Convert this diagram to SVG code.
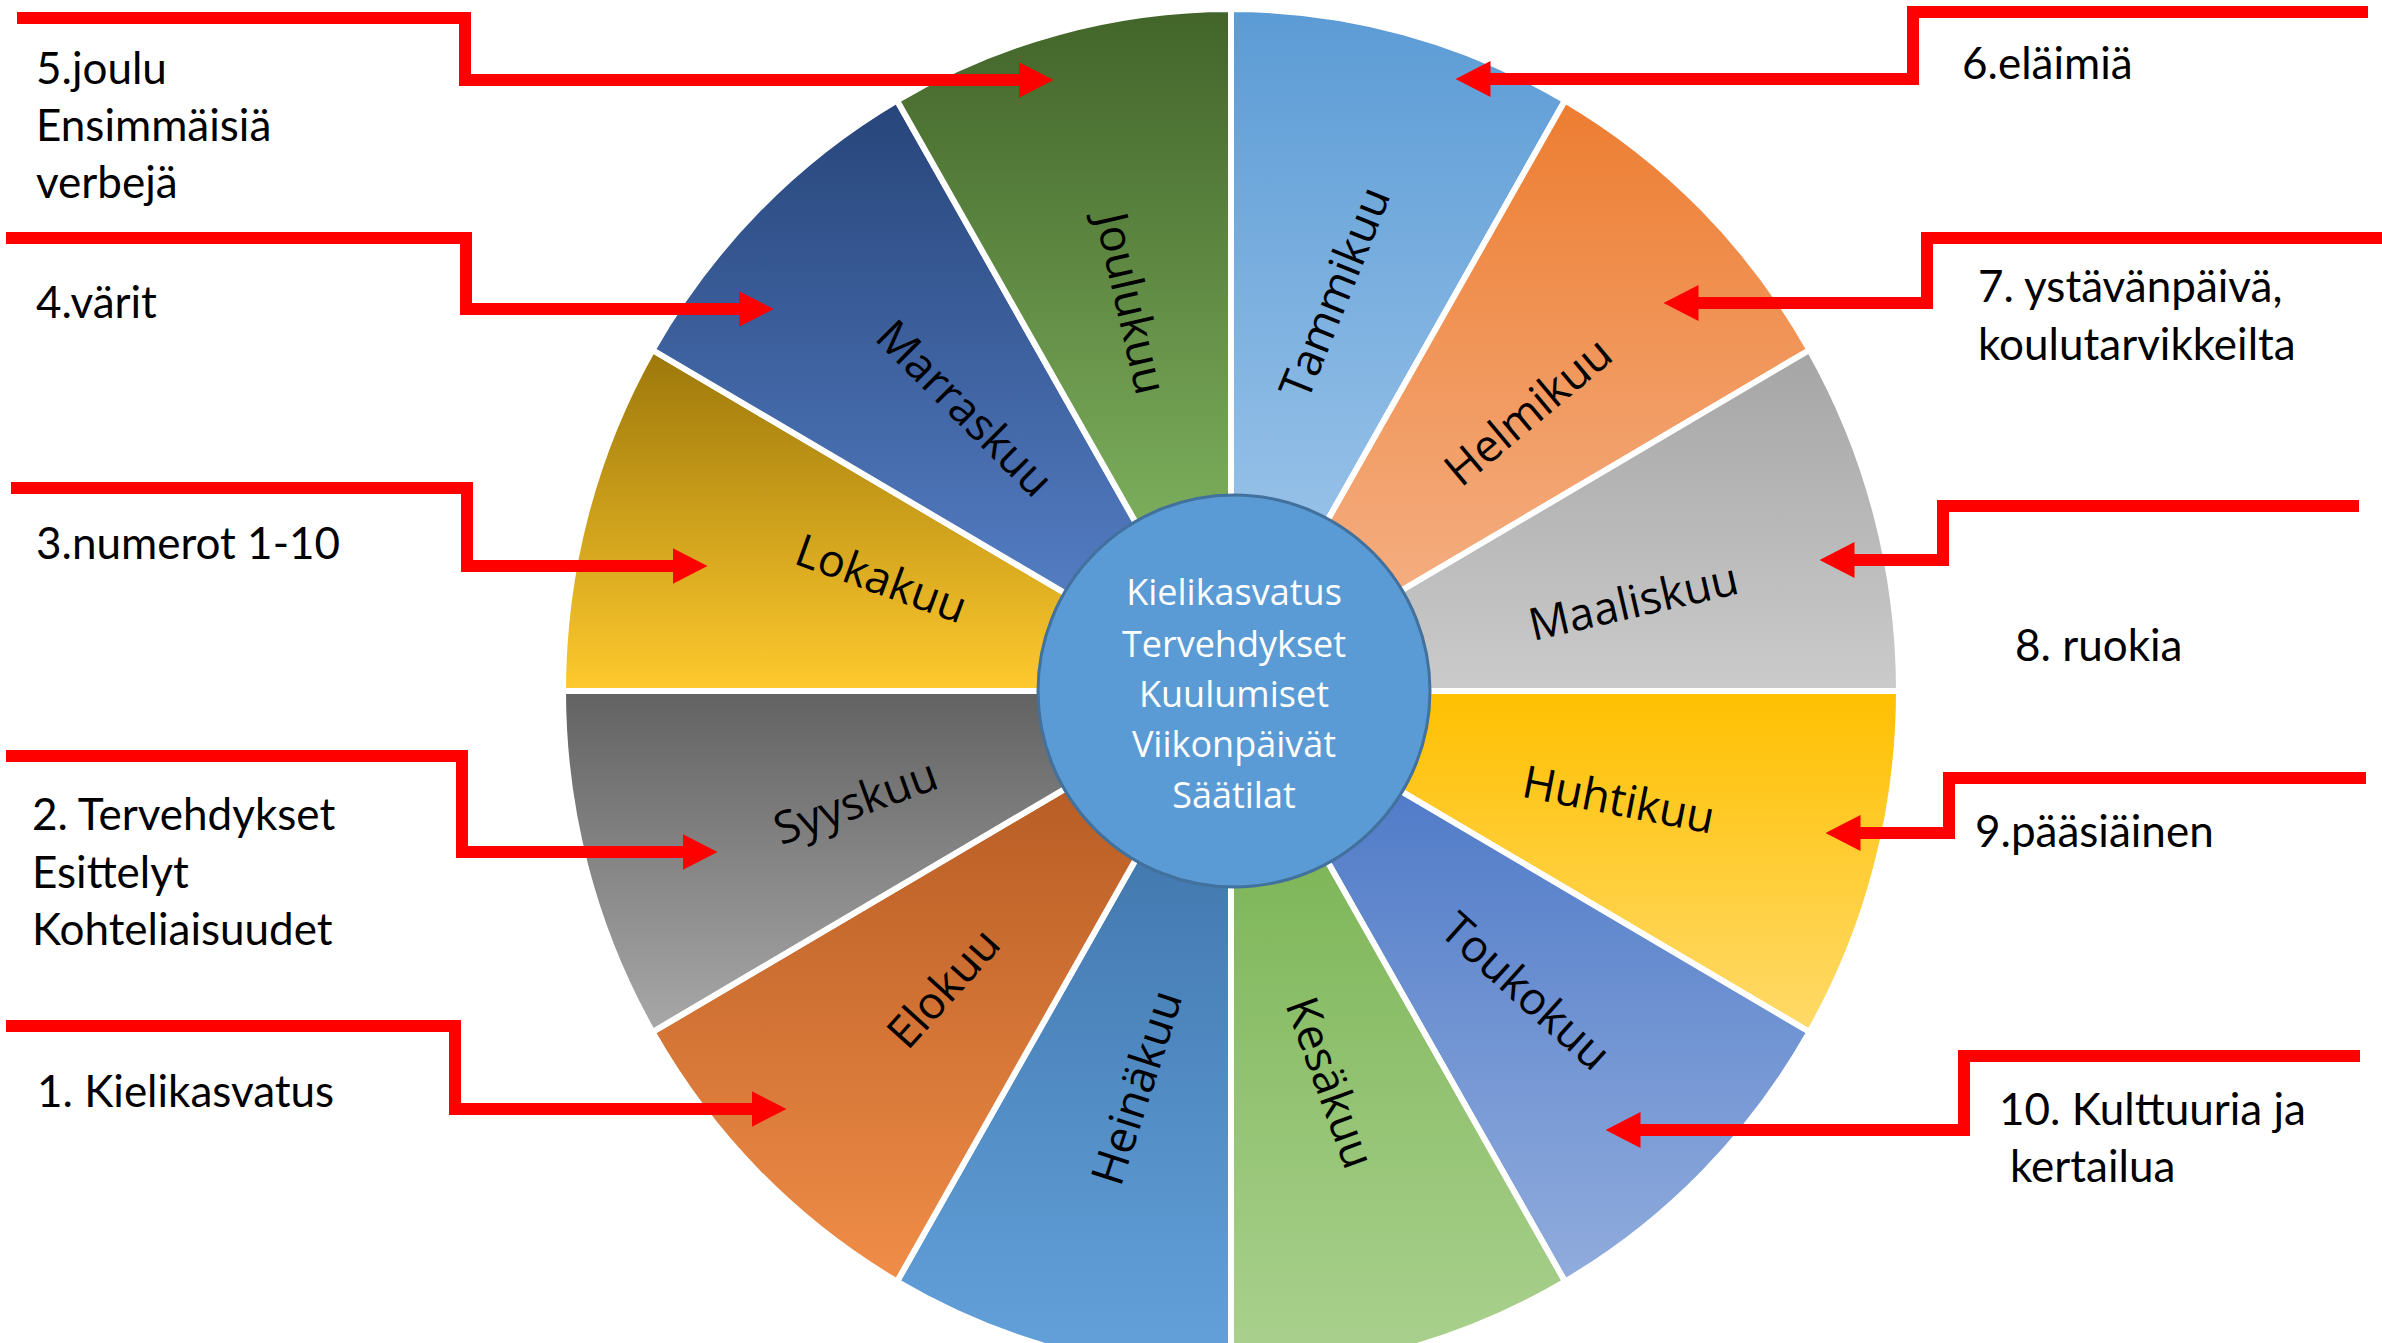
<svg xmlns="http://www.w3.org/2000/svg" width="2382" height="1343" viewBox="0 0 2382 1343">
<defs>
<linearGradient id="gJou" x1="0" y1="0" x2="0" y2="1"><stop offset="0" stop-color="#42642A"/><stop offset="1" stop-color="#8EC56B"/></linearGradient>
<linearGradient id="gMar" x1="0" y1="0" x2="0" y2="1"><stop offset="0" stop-color="#27457A"/><stop offset="1" stop-color="#5C87D0"/></linearGradient>
<linearGradient id="gLok" x1="0" y1="0" x2="0" y2="1"><stop offset="0" stop-color="#9C770A"/><stop offset="1" stop-color="#FFCA2E"/></linearGradient>
<linearGradient id="gSyy" x1="0" y1="0" x2="0" y2="1"><stop offset="0" stop-color="#626262"/><stop offset="1" stop-color="#A8A8A8"/></linearGradient>
<linearGradient id="gElo" x1="0" y1="0" x2="0" y2="1"><stop offset="0" stop-color="#AD541E"/><stop offset="1" stop-color="#F08D48"/></linearGradient>
<linearGradient id="gHei" x1="0" y1="0" x2="0" y2="1"><stop offset="0" stop-color="#386CA1"/><stop offset="1" stop-color="#64A2DC"/></linearGradient>
<linearGradient id="gTam" x1="0" y1="0" x2="0" y2="1"><stop offset="0" stop-color="#5B9BD5"/><stop offset="1" stop-color="#A9CDEE"/></linearGradient>
<linearGradient id="gHel" x1="0" y1="0" x2="0" y2="1"><stop offset="0" stop-color="#ED7D31"/><stop offset="1" stop-color="#F6B790"/></linearGradient>
<linearGradient id="gMaa" x1="0" y1="0" x2="0" y2="1"><stop offset="0" stop-color="#A5A5A5"/><stop offset="1" stop-color="#CBCBCB"/></linearGradient>
<linearGradient id="gHuh" x1="0" y1="0" x2="0" y2="1"><stop offset="0" stop-color="#FFC000"/><stop offset="1" stop-color="#FFDA6A"/></linearGradient>
<linearGradient id="gTou" x1="0" y1="0" x2="0" y2="1"><stop offset="0" stop-color="#4472C4"/><stop offset="1" stop-color="#91ACDD"/></linearGradient>
<linearGradient id="gKes" x1="0" y1="0" x2="0" y2="1"><stop offset="0" stop-color="#70AD47"/><stop offset="1" stop-color="#ABD290"/></linearGradient>
<marker id="ah" viewBox="0 0 35 36" refX="0.5" refY="18" markerWidth="35" markerHeight="36" markerUnits="userSpaceOnUse" orient="auto">
<path d="M0 0 L35 18 L0 36 Z" fill="#FF0000"/>
</marker>
</defs>
<style>
.seg{stroke:#FFFFFF;stroke-width:6;stroke-linejoin:round}
.mon{font-family:"Open Sans","DejaVu Sans",sans-serif;font-size:45px;fill:#000000;text-anchor:middle;dominant-baseline:central}
.ctr{font-family:"Open Sans","DejaVu Sans",sans-serif;font-size:36px;fill:#FFFFFF;text-anchor:middle}
.lbl{font-family:Lato,"Liberation Sans",sans-serif;font-size:44px;fill:#000000}
.con{fill:none;stroke:#FF0000;stroke-width:12;stroke-linejoin:miter;marker-end:url(#ah)}
</style>
<rect x="0" y="0" width="2382" height="1343" fill="#FFFFFF"/>
<g id="wheel">
<g id="tammikuu"><path class="seg" fill="url(#gTam)" d="M1231 691 L1231 9 A668 682 0 0 1 1565 100.4 Z"/><text class="mon" transform="translate(1333 292) rotate(-68)">Tammikuu</text></g>
<g id="helmikuu"><path class="seg" fill="url(#gHel)" d="M1231 691 L1565 100.4 A668 682 0 0 1 1809.5 350 Z"/><text class="mon" transform="translate(1527 410) rotate(-40)">Helmikuu</text></g>
<g id="maaliskuu"><path class="seg" fill="url(#gMaa)" d="M1231 691 L1809.5 350 A668 682 0 0 1 1899 691 Z"/><text class="mon" transform="translate(1633 600) rotate(-13)">Maaliskuu</text></g>
<g id="huhtikuu"><path class="seg" fill="url(#gHuh)" d="M1231 691 L1899 691 A668 682 0 0 1 1809.5 1032 Z"/><text class="mon" transform="translate(1619 798) rotate(11)">Huhtikuu</text></g>
<g id="toukokuu"><path class="seg" fill="url(#gTou)" d="M1231 691 L1809.5 1032 A668 682 0 0 1 1565 1281.6 Z"/><text class="mon" transform="translate(1527 990) rotate(42)">Toukokuu</text></g>
<g id="kesakuu"><path class="seg" fill="url(#gKes)" d="M1231 691 L1565 1281.6 A668 682 0 0 1 1231 1373 Z"/><text class="mon" transform="translate(1332 1082) rotate(70)">Kesäkuu</text></g>
<g id="heinakuu"><path class="seg" fill="url(#gHei)" d="M1231 691 L1231 1373 A668 682 0 0 1 897 1281.6 Z"/><text class="mon" transform="translate(1135 1087) rotate(-72)">Heinäkuu</text></g>
<g id="elokuu"><path class="seg" fill="url(#gElo)" d="M1231 691 L897 1281.6 A668 682 0 0 1 652.5 1032 Z"/><text class="mon" transform="translate(942 987) rotate(-48)">Elokuu</text></g>
<g id="syyskuu"><path class="seg" fill="url(#gSyy)" d="M1231 691 L652.5 1032 A668 682 0 0 1 563 691 Z"/><text class="mon" transform="translate(855 800) rotate(-20)">Syyskuu</text></g>
<g id="lokakuu"><path class="seg" fill="url(#gLok)" d="M1231 691 L563 691 A668 682 0 0 1 652.5 350 Z"/><text class="mon" transform="translate(882 577) rotate(20)">Lokakuu</text></g>
<g id="marraskuu"><path class="seg" fill="url(#gMar)" d="M1231 691 L652.5 350 A668 682 0 0 1 897 100.4 Z"/><text class="mon" transform="translate(966 407) rotate(45)">Marraskuu</text></g>
<g id="joulukuu"><path class="seg" fill="url(#gJou)" d="M1231 691 L897 100.4 A668 682 0 0 1 1231 9 Z"/><text class="mon" transform="translate(1133 303) rotate(77)">Joulukuu</text></g>
</g>
<g id="center">
<circle cx="1234" cy="691" r="196" fill="#5B9BD5" stroke="#41719C" stroke-width="3"/>
<text class="ctr" x="1234" y="605">Kielikasvatus</text>
<text class="ctr" x="1234" y="657">Tervehdykset</text>
<text class="ctr" x="1234" y="707">Kuulumiset</text>
<text class="ctr" x="1234" y="757">Viikonpäivät</text>
<text class="ctr" x="1234" y="808">Säätilat</text>
</g>
<g id="connectors">
<path class="con" d="M17 18 H465 V80 H1019"/>
<path class="con" d="M6 238 H466 V309 H739"/>
<path class="con" d="M11 488 H467 V566 H673"/>
<path class="con" d="M6 756 H462 V852 H683"/>
<path class="con" d="M6 1026 H455 V1109 H752"/>
<path class="con" d="M2368 12 H1913 V79 H1490"/>
<path class="con" d="M2382 238 H1927 V303 H1698"/>
<path class="con" d="M2359 506 H1943 V560 H1854"/>
<path class="con" d="M2366 778 H1949 V833 H1860"/>
<path class="con" d="M2360 1056 H1964 V1130 H1640"/>
</g>
<g id="topic5"><text class="lbl" x="36" y="84">5.joulu</text><text class="lbl" x="36" y="141">Ensimmäisiä</text><text class="lbl" x="36" y="198">verbejä</text></g>
<g id="topic4"><text class="lbl" x="36" y="318">4.värit</text></g>
<g id="topic3"><text class="lbl" x="36" y="559">3.numerot 1-10</text></g>
<g id="topic2"><text class="lbl" x="32" y="830">2. Tervehdykset</text><text class="lbl" x="32" y="888">Esittelyt</text><text class="lbl" x="32" y="945">Kohteliaisuudet</text></g>
<g id="topic1"><text class="lbl" x="37" y="1107">1. Kielikasvatus</text></g>
<g id="topic6"><text class="lbl" x="1962" y="79">6.eläimiä</text></g>
<g id="topic7"><text class="lbl" x="1978" y="302">7. ystävänpäivä,</text><text class="lbl" x="1978" y="360">koulutarvikkeilta</text></g>
<g id="topic8"><text class="lbl" x="2015" y="661">8. ruokia</text></g>
<g id="topic9"><text class="lbl" x="1975" y="847">9.pääsiäinen</text></g>
<g id="topic10"><text class="lbl" x="1999" y="1125">10. Kulttuuria ja</text><text class="lbl" x="2010" y="1182">kertailua</text></g>
</svg>
